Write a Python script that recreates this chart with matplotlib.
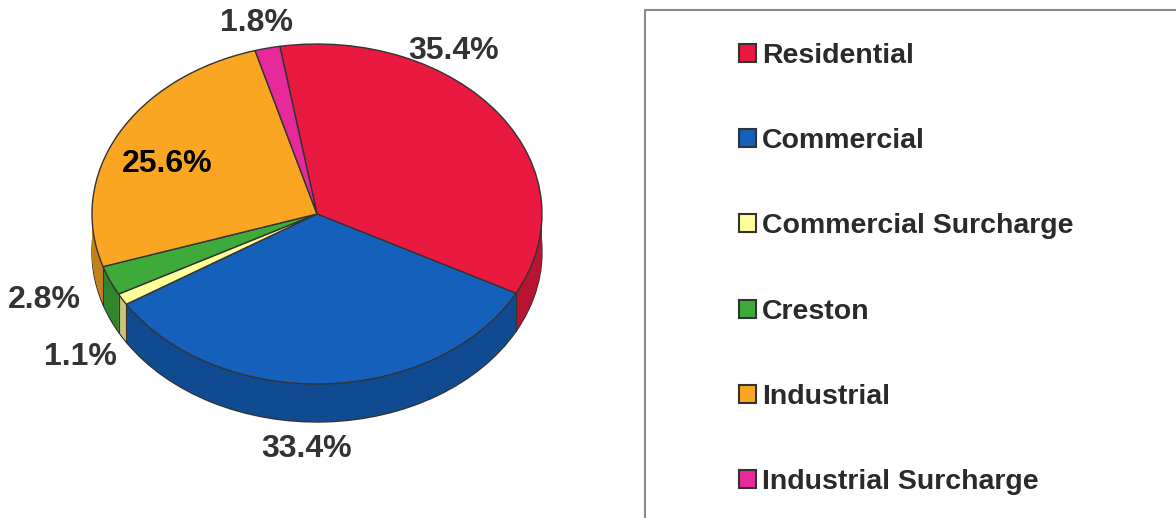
import numpy as np
import matplotlib.pyplot as plt
from matplotlib.patches import Patch, Rectangle
from matplotlib import colors as mcolors

labels = ["Residential", "Commercial", "Commercial Surcharge", "Creston",
          "Industrial", "Industrial Surcharge"]
shares = [35.4, 33.4, 1.1, 2.8, 25.6, 1.8]
pct_text = ["35.4%", "33.4%", "1.1%", "2.8%", "25.6%", "1.8%"]
colors = ["#E9193F", "#1560BA", "#FFFF99", "#3DAA3A", "#FBA623", "#E62A9C"]
# label centres in pixels from the top-left corner
label_pos = [(454, 51), (307, 449), (80, 357), (44, 300), (167, 164), (257, 23)]
label_color = ["#333333", "#333333", "#333333", "#333333", "#000000", "#333333"]

plt.rcParams['font.family'] = ['Liberation Sans', 'DejaVu Sans']

W, H = 1176, 518
cx, cy = 317, 214      # centre of top face (pixels)
rx, ry = 225, 170      # ellipse radii
depth = 38
k = ry / rx
start = 99.5

fig = plt.figure(figsize=(W / 100, H / 100), dpi=100)
ax = fig.add_axes([0, 0, 1, 1])


def yd(ypix):
    return (H - ypix) / k


side = [tuple(v * 0.78 for v in mcolors.to_rgb(c)) for c in colors]

# side wall: stacked pies shifted downwards
ax.pie(shares, colors=side, startangle=start, counterclock=False, radius=rx,
       center=(cx, yd(cy + depth)),
       wedgeprops=dict(edgecolor="#333333", linewidth=1.0))
for d in np.arange(depth - 1, 0, -1):
    ax.pie(shares, colors=side, startangle=start, counterclock=False, radius=rx,
           center=(cx, yd(cy + d)), wedgeprops=dict(linewidth=0))

# vertical seams between slices on the front wall
cum = np.cumsum([0] + shares)
for c in cum:
    th = np.deg2rad(start - 360 * c / sum(shares))
    if np.sin(th) < 0:
        x = cx + rx * np.cos(th)
        yp = cy - ry * np.sin(th)
        ax.plot([x, x], [yd(yp), yd(yp + depth)], color="#333333", lw=0.8)

# top face
ax.pie(shares, colors=colors, startangle=start, counterclock=False, radius=rx,
       center=(cx, yd(cy)),
       wedgeprops=dict(edgecolor="#333333", linewidth=1.0))

for t, (x, y), col in zip(pct_text, label_pos, label_color):
    ax.text(x, yd(y), t, ha="center", va="center", fontsize=23,
            fontweight="bold", color=col)

ax.set_xlim(0, W)
ax.set_ylim(0, H / k)
ax.set_aspect('auto')
ax.axis('off')

handles = [Patch(facecolor=c, edgecolor="#333333", linewidth=1.5) for c in colors]
fig.legend(handles, labels, loc="upper left", bbox_to_anchor=(739 / W, 1 - 43 / H),
           frameon=False, prop=dict(size=20.5, weight="bold"), labelcolor="#2a2a2a",
           handlelength=0.6, handleheight=0.6, handletextpad=0.22,
           labelspacing=2.08, borderpad=0, borderaxespad=0)

fig.patches.append(Rectangle((645 / W, -0.1), 1, 1.1 - 10 / H, transform=fig.transFigure,
                             fill=False, edgecolor="#8a8a8a", lw=1.5))

fig.savefig("out.png", dpi=100)
